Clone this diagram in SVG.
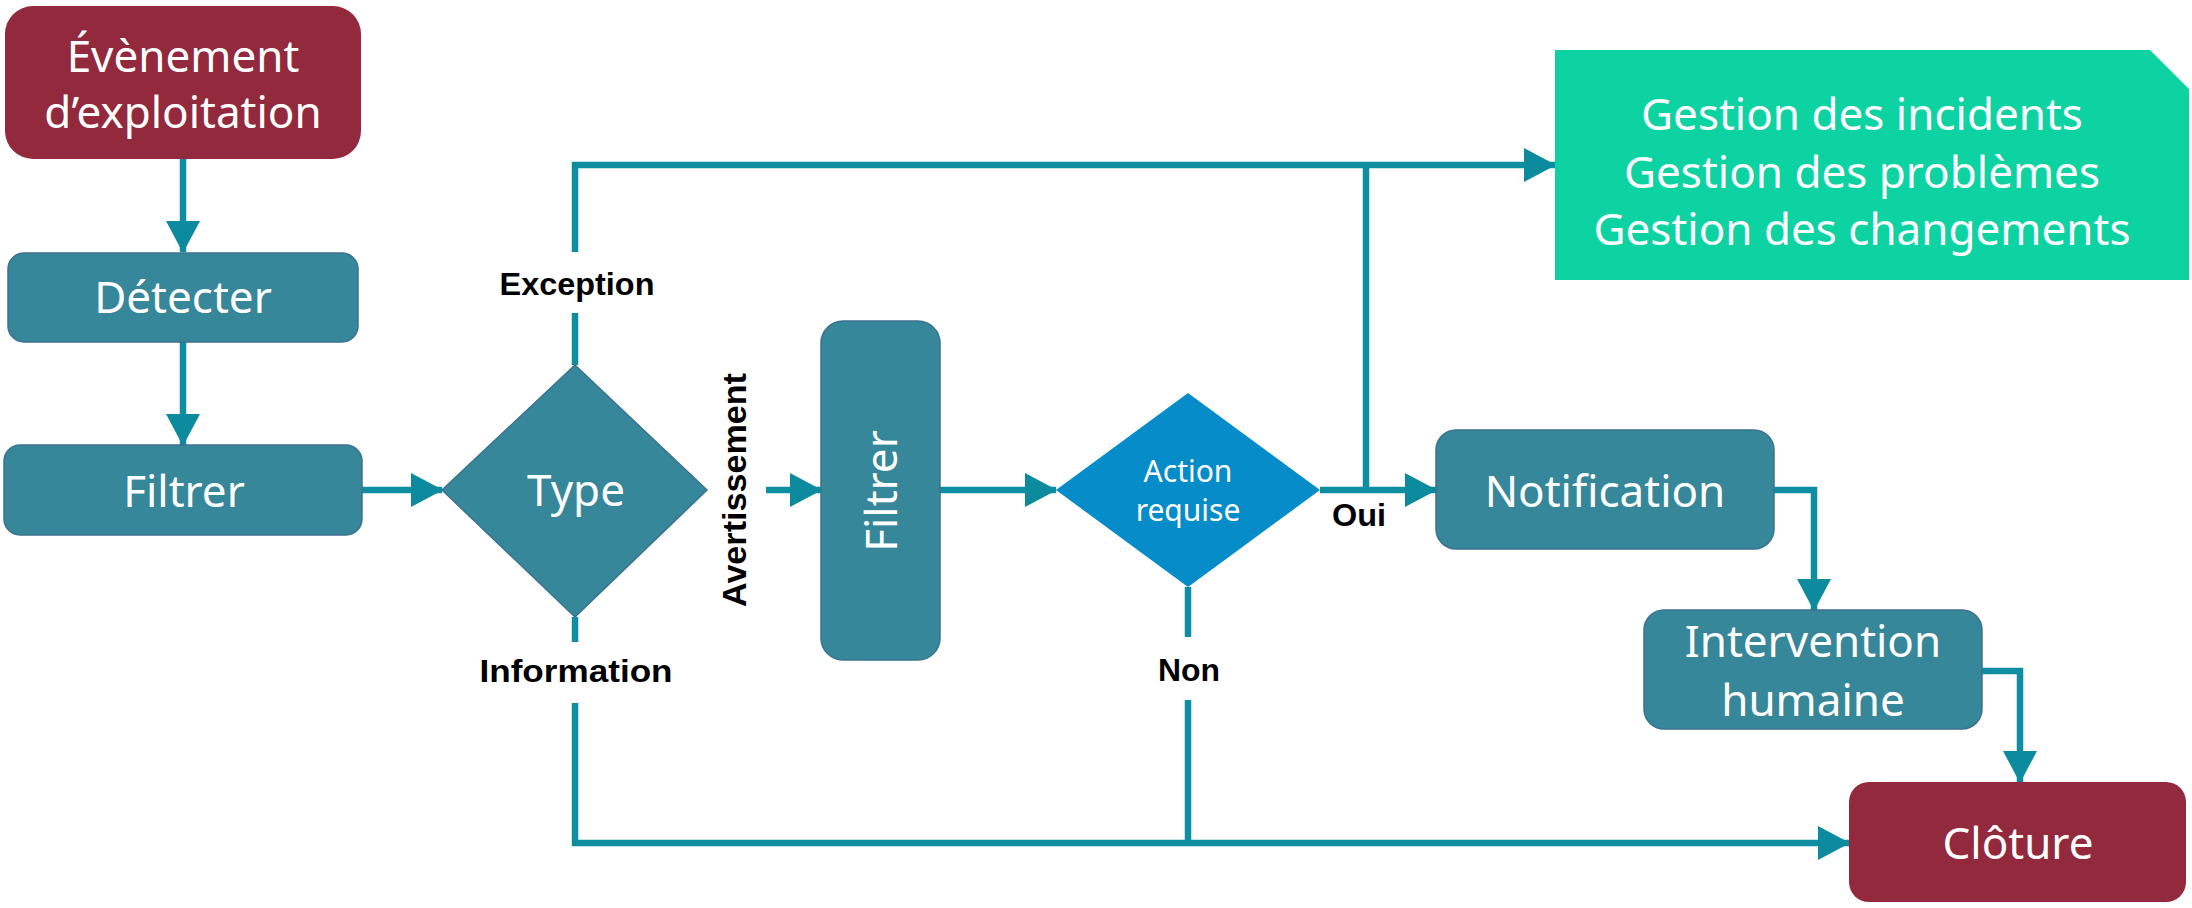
<svg xmlns="http://www.w3.org/2000/svg" width="2192" height="908" viewBox="0 0 2192 908">
<style>
.bg{fill:#ffffff}
.red{fill:#93293d}
.teal{fill:#37879a;stroke:#3b7290;stroke-width:1.5}
.mint{fill:#0dd3a3}
.blue{fill:#068cc9}
.t{font-family:"Noto Sans","Open Sans",sans-serif;font-size:44px;fill:#ffffff;text-anchor:middle}
.ts{font-family:"Noto Sans","Open Sans",sans-serif;font-size:30px;fill:#ffffff;text-anchor:middle}
.lb{font-family:"Liberation Sans",Arial,sans-serif;font-weight:bold;font-size:32px;fill:#000000;text-anchor:middle}
.lv{font-family:"Liberation Sans",Arial,sans-serif;font-weight:bold;font-size:34px;fill:#000000;text-anchor:middle}
.c{fill:none;stroke:#0f8ea1;stroke-width:6.5}
</style>
<defs>
<marker id="ah" markerUnits="userSpaceOnUse" markerWidth="32" markerHeight="34" refX="31" refY="17" orient="auto">
<path d="M0,0 L32,17 L0,34 Z" fill="#0c8a9e"/>
</marker>
</defs>
<rect class="bg" x="0" y="0" width="2192" height="908"/>
<g id="connectors">
<path class="c" d="M183,159 V252" marker-end="url(#ah)"/>
<path class="c" d="M183,342 V445" marker-end="url(#ah)"/>
<path class="c" d="M362,490 H442" marker-end="url(#ah)"/>
<path class="c" d="M575,365 V313"/>
<path class="c" d="M575,252 V165 H1555" marker-end="url(#ah)"/>
<path class="c" d="M575,617 V642"/>
<path class="c" d="M575,703 V843 H1849" marker-end="url(#ah)"/>
<path class="c" d="M766,490 H821" marker-end="url(#ah)"/>
<path class="c" d="M940,490 H1056" marker-end="url(#ah)"/>
<path class="c" d="M1320,490 H1436" marker-end="url(#ah)"/>
<path class="c" d="M1366,490 V165"/>
<path class="c" d="M1188,587 V637"/>
<path class="c" d="M1188,700 V843"/>
<path class="c" d="M1774,490 H1814 V610" marker-end="url(#ah)"/>
<path class="c" d="M1982,671 H2020 V782" marker-end="url(#ah)"/>
<text class="lb" x="577" y="295" textLength="155" lengthAdjust="spacingAndGlyphs">Exception</text>
<text class="lb" x="576" y="682" textLength="193" lengthAdjust="spacingAndGlyphs">Information</text>
<text class="lv" transform="translate(746,490) rotate(-90)" x="0" y="0" textLength="234" lengthAdjust="spacingAndGlyphs">Avertissement</text>
<text class="lb" x="1359" y="526" textLength="54" lengthAdjust="spacingAndGlyphs">Oui</text>
<text class="lb" x="1189" y="681" textLength="62" lengthAdjust="spacingAndGlyphs">Non</text>
</g>
<g id="evenement">
<rect class="red" x="5" y="6" width="356" height="153" rx="28" ry="28"/>
<text class="t" x="183" y="72">Évènement</text>
<text class="t" x="183" y="128">d’exploitation</text>
</g>
<g id="detecter">
<rect class="teal" x="8" y="253" width="350" height="89" rx="16" ry="16"/>
<text class="t" x="183" y="313">Détecter</text>
</g>
<g id="filtrer1">
<rect class="teal" x="4" y="445" width="358" height="90" rx="16" ry="16"/>
<text class="t" x="184" y="507">Filtrer</text>
</g>
<g id="type">
<polygon class="teal" points="575,365 707,490 575,617 442,490"/>
<text class="t" x="576" y="506">Type</text>
</g>
<g id="filtrer2">
<rect class="teal" x="821" y="321" width="119" height="339" rx="22" ry="22"/>
<text class="t" transform="translate(897,491) rotate(-90)" x="0" y="0">Filtrer</text>
</g>
<g id="action">
<polygon class="blue" points="1188,393 1320,490 1188,587 1056,490"/>
<text class="ts" x="1188" y="482">Action</text>
<text class="ts" x="1188" y="521">requise</text>
</g>
<g id="gestion">
<path class="mint" d="M1555,50 H2150 L2189,89 V280 H1555 Z"/>
<text class="t" x="1862" y="130">Gestion des incidents</text>
<text class="t" x="1862" y="188">Gestion des problèmes</text>
<text class="t" x="1862" y="245">Gestion des changements</text>
</g>
<g id="notification">
<rect class="teal" x="1436" y="430" width="338" height="119" rx="20" ry="20"/>
<text class="t" x="1605" y="507">Notification</text>
</g>
<g id="intervention">
<rect class="teal" x="1644" y="610" width="338" height="119" rx="20" ry="20"/>
<text class="t" x="1813" y="657">Intervention</text>
<text class="t" x="1813" y="716">humaine</text>
</g>
<g id="cloture">
<rect class="red" x="1849" y="782" width="337" height="120" rx="20" ry="20"/>
<text class="t" x="2018" y="859">Clôture</text>
</g>
</svg>
